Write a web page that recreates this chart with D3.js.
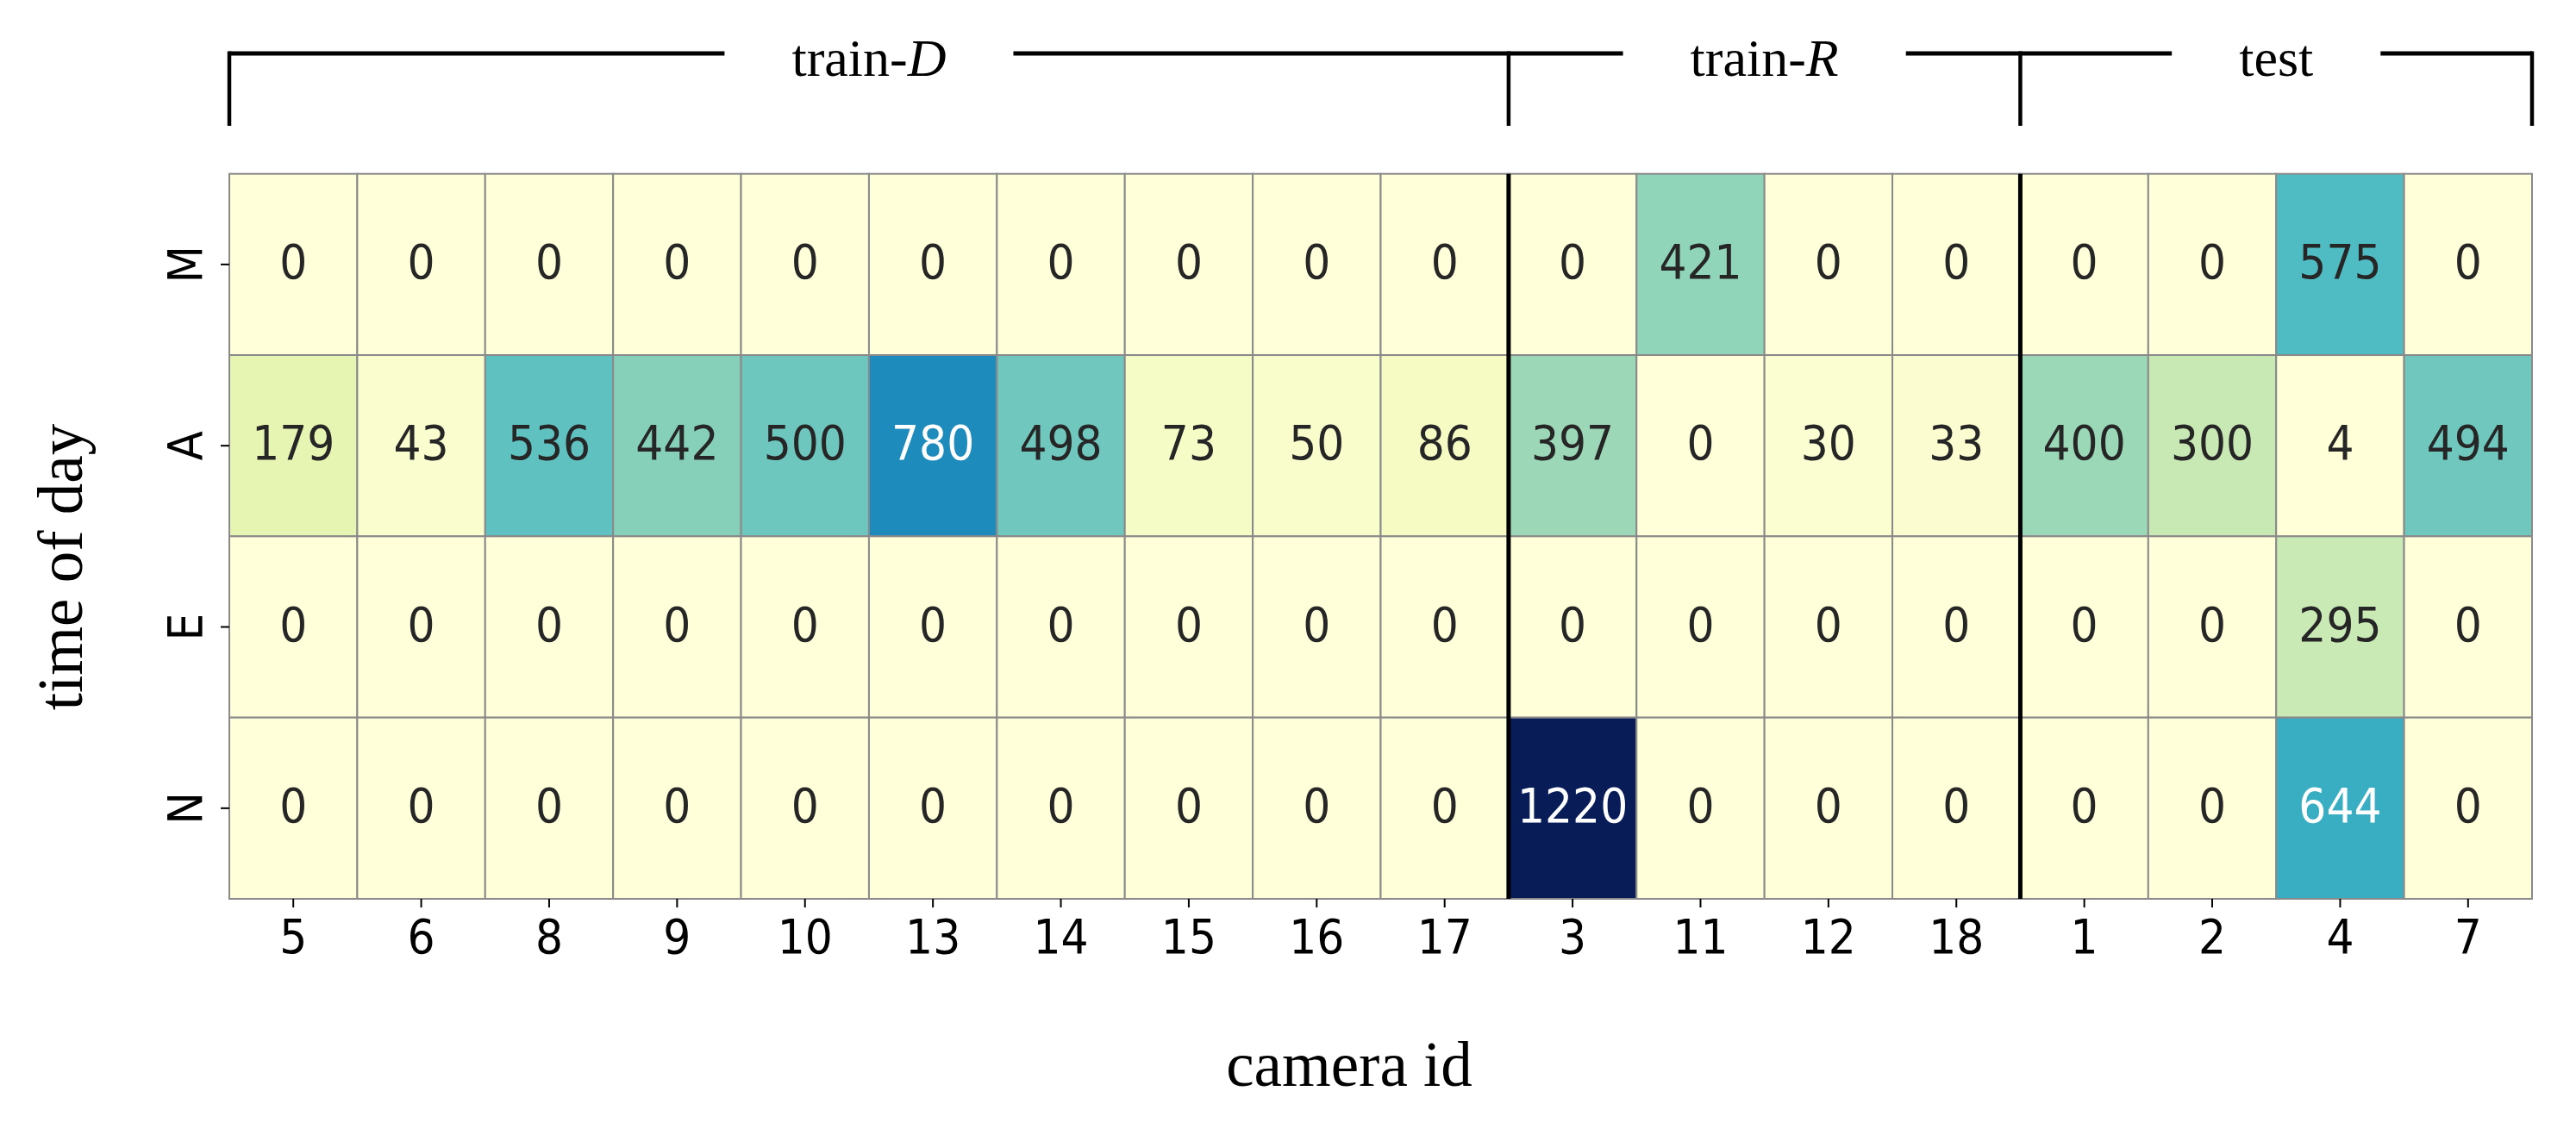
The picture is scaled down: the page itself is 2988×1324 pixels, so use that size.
<!DOCTYPE html>
<html><head><meta charset="utf-8">
<script src="https://cdn.jsdelivr.net/npm/d3@7"></script>
<style>body{margin:0;background:#fff}</style>
</head><body>
<svg id="chart" width="2988" height="1324"></svg>
<script>
// ---- data ----
const cameras = ["5","6","8","9","10","13","14","15","16","17","3","11","12","18","1","2","4","7"];
const times = ["M","A","E","N"];
const valuesM = [0,0,0,0,0,0,0,0,0,0,0,421,0,0,0,0,575,0];
const valuesA = [179,43,536,442,500,780,498,73,50,86,397,0,30,33,400,300,4,494];
const valuesE = [0,0,0,0,0,0,0,0,0,0,0,0,0,0,0,0,295,0];
const valuesN = [0,0,0,0,0,0,0,0,0,0,1220,0,0,0,0,0,644,0];
const groupPrefix = ["train-","train-","test"];
const groupItalic = ["D","R",""];
const groupSizes = [10,4,4];
const cmapColors = ["#ffffd9","#edf8b1","#c7e9b4","#7fcdbb","#41b6c4","#1d91c0","#225ea8","#253494","#081d58"];
const xTitle = "camera id";
const yTitle = "time of day";

// ---- build ----
const rows = [valuesM, valuesA, valuesE, valuesN];
const cells = [];
rows.forEach((vals, ri) => vals.forEach((v, ci) => cells.push({t: times[ri], c: cameras[ci], v})));

const L = 266, R = 2937, T = 201.7, B = 1043;
const FS = 56;
const svg = d3.select("#chart");
const x = d3.scaleBand().domain(cameras).range([L, R]);
const y = d3.scaleBand().domain(times).range([T, B]);
const vmax = d3.max(cells, d => d.v);
const color = d3.scaleLinear()
  .domain(cmapColors.map((_, i) => i / (cmapColors.length - 1) * vmax))
  .range(cmapColors).interpolate(d3.interpolateRgb);

function lum(c) {
  const r = d3.rgb(c);
  const f = v => { v /= 255; return v <= 0.03928 ? v / 12.92 : Math.pow((v + 0.055) / 1.055, 2.4); };
  return 0.2126 * f(r.r) + 0.7152 * f(r.g) + 0.0722 * f(r.b);
}

// detect whether a condensed face is available; otherwise squeeze horizontally
const probeN = svg.append("text").attr("font-family", "DejaVu Sans").attr("font-size", FS).text("1234567890");
const probeC = svg.append("text").attr("font-family", "DejaVu Sans").attr("font-stretch", "condensed").attr("font-size", FS).text("1234567890");
const ratio = probeC.node().getComputedTextLength() / probeN.node().getComputedTextLength();
probeN.remove(); probeC.remove();
const useCond = ratio < 0.95;
const sx = useCond ? 1 : 0.9;

svg.append("g").selectAll("rect").data(cells).join("rect")
  .attr("x", d => x(d.c)).attr("y", d => y(d.t))
  .attr("width", x.bandwidth()).attr("height", y.bandwidth())
  .attr("fill", d => color(d.v))
  .attr("stroke", "#8a8a8a").attr("stroke-width", 2);

svg.append("g").selectAll("text").data(cells).join("text")
  .attr("transform", d => `translate(${x(d.c) + x.bandwidth() / 2},${y(d.t) + y.bandwidth() / 2 + 16}) scale(${sx},1)`)
  .attr("text-anchor", "middle")
  .attr("font-family", "DejaVu Sans")
  .attr("font-stretch", "condensed")
  .attr("font-size", FS)
  .attr("fill", d => lum(color(d.v)) > 0.408 ? "#262626" : "#ffffff")
  .text(d => d.v);

// group separators inside heatmap
let acc = 0;
const bounds = [0];
groupSizes.forEach(s => { acc += s; bounds.push(acc); });
const bx = i => i < cameras.length ? x(cameras[i]) : R;
svg.append("g").selectAll("line").data(bounds.slice(1, -1)).join("line")
  .attr("x1", d => bx(d)).attr("x2", d => bx(d))
  .attr("y1", T).attr("y2", B)
  .attr("stroke", "#000").attr("stroke-width", 5);

// axes
const xAxis = svg.append("g").attr("transform", `translate(0,${B})`)
  .call(d3.axisBottom(x).tickSize(10).tickPadding(13));
xAxis.select(".domain").remove();
xAxis.selectAll(".tick line").attr("stroke", "#000").attr("stroke-width", 2);
xAxis.selectAll(".tick text")
  .attr("font-family", "DejaVu Sans").attr("font-stretch", "condensed")
  .attr("font-size", FS).attr("fill", "#000")
  .attr("y", null).attr("dy", null)
  .attr("transform", `translate(0,${10 + 13 + 0.71 * FS}) scale(${sx},1)`);

const yAxis = svg.append("g").attr("transform", `translate(${L},0)`)
  .call(d3.axisLeft(y).tickSize(10));
yAxis.select(".domain").remove();
yAxis.selectAll(".tick line").attr("stroke", "#000").attr("stroke-width", 2);
yAxis.selectAll(".tick text")
  .attr("font-family", "DejaVu Sans").attr("font-stretch", "condensed")
  .attr("font-size", FS).attr("fill", "#000")
  .attr("x", null).attr("y", null).attr("dy", null)
  .attr("text-anchor", "middle")
  .attr("transform", `translate(-32,0) rotate(-90) scale(${sx},1)`);

// axis titles
svg.append("text").attr("x", 1565).attr("y", 1260)
  .attr("text-anchor", "middle").attr("font-family", "Liberation Serif").attr("font-size", 73)
  .text(xTitle);
svg.append("text").attr("transform", "translate(95,658) rotate(-90)")
  .attr("text-anchor", "middle").attr("font-family", "Liberation Serif").attr("font-size", 73)
  .text(yTitle);

// group brackets
const lineY = 62, tickBottom = 146;
const gb = svg.append("g");
groupSizes.forEach((s, gi) => {
  const x0 = bx(bounds[gi]), x1 = bx(bounds[gi + 1]);
  const cx = (x0 + x1) / 2;
  const t = gb.append("text").attr("x", cx).attr("y", 88)
    .attr("text-anchor", "middle").attr("font-family", "Liberation Serif").attr("font-size", 62);
  t.append("tspan").text(groupPrefix[gi]);
  if (groupItalic[gi]) t.append("tspan").attr("font-style", "italic").text(groupItalic[gi]);
  const w = t.node().getComputedTextLength();
  const half = w / 2 + 78;
  gb.append("line").attr("x1", x0).attr("x2", cx - half).attr("y1", lineY).attr("y2", lineY)
    .attr("stroke", "#000").attr("stroke-width", 5);
  gb.append("line").attr("x1", cx + half).attr("x2", x1).attr("y1", lineY).attr("y2", lineY)
    .attr("stroke", "#000").attr("stroke-width", 5);
});
gb.selectAll("line.v").data(bounds).join("line").attr("class", "v")
  .attr("x1", d => bx(d)).attr("x2", d => bx(d))
  .attr("y1", lineY - 2.5).attr("y2", tickBottom)
  .attr("stroke", "#000").attr("stroke-width", 4.5);
</script>
</body></html>
